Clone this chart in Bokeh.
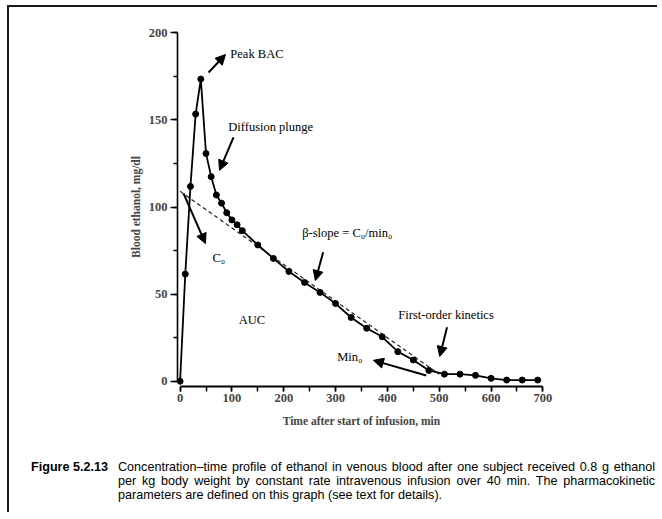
from bokeh.plotting import figure
from bokeh.models import (ColumnDataSource, FixedTicker, Label, Arrow, NormalHead,
                          Range1d, Div)
from bokeh.layouts import column
from bokeh.embed import file_html
from bokeh.resources import INLINE

# ---------------- data ----------------
time_min = [0, 10, 20, 30, 40, 50, 60, 70, 80, 90, 100, 110, 120,
            150, 180, 210, 240, 270, 300, 330, 360, 390, 420, 450,
            480, 510, 540, 570, 600, 630, 660, 690]
bac_mg_dl = [0, 61.5, 111.8, 153.3, 173.4, 130.7, 117.4, 106.9, 102.2, 96.7, 92.6, 89.8, 86.4,
             78.2, 70.5, 63.0, 56.7, 51.0, 44.6, 36.6, 30.4, 25.5, 17.0, 12.2,
             6.2, 4.1, 4.1, 3.4, 1.7, 0.7, 0.7, 0.7]

# extrapolated beta-slope line (C0 intercept to elimination end)
beta_t = [0, 500]
beta_v = [109, 4]

x_ticks = [0, 100, 200, 300, 400, 500, 600, 700]
x_minor = [0, 50, 100, 150, 200, 250, 300, 350, 400, 450, 500, 550, 600, 650, 700]
y_ticks = [0, 50, 100, 150, 200]
y_minor = [0, 25, 50, 75, 100, 125, 150, 175, 200]

# annotation arrows (tail -> head, data coords)
arrow_x0 = [54.8, 103, 6.6, 276, 515, 475]
arrow_y0 = [177.2, 140, 107.8, 74, 31, 3.3]
arrow_x1 = [87.6, 76, 49, 261, 501, 373]
arrow_y1 = [187.5, 121, 79, 57.8, 14.2, 12]

caption_head = "Figure 5.2.13"
caption_lines = [
    "Concentration\u2013time profile of ethanol in venous blood after one subject received 0.8 g ethanol",
    "per kg body weight by constant rate intravenous infusion over 40 min. The pharmacokinetic",
    "parameters are defined on this graph (see text for details).",
]

SERIF = "Liberation Serif"
SANS = "Liberation Sans"

p = figure(width=648, height=430, output_backend="svg", toolbar_location=None,
           x_range=Range1d(-5, 705), y_range=Range1d(-3, 203),
           min_border_left=168, min_border_right=112,
           min_border_top=20, min_border_bottom=51)
p.xgrid.visible = False
p.ygrid.visible = False
p.outline_line_color = None
p.background_fill_color = "white"
p.border_fill_color = "white"

# axes
xa = p.xaxis[0]
xa.ticker = FixedTicker(ticks=x_ticks, minor_ticks=x_minor)
xa.bounds = (0, 700)
xa.axis_line_width = 2
xa.major_tick_out = 5
xa.major_tick_in = 0
xa.minor_tick_out = 5
xa.minor_tick_in = 0
xa.major_tick_line_width = 1.5
xa.minor_tick_line_width = 1.5
xa.major_label_text_font = SERIF
xa.major_label_text_font_style = "bold"
xa.major_label_text_font_size = "12.5px"
xa.major_label_standoff = 2
xa.axis_label = "Time after start of infusion, min"
xa.axis_label_text_font = SERIF
xa.axis_label_text_font_style = "bold"
xa.axis_label_text_font_size = "11.5px"
xa.axis_label_standoff = 10

ya = p.yaxis[0]
ya.ticker = FixedTicker(ticks=y_ticks, minor_ticks=y_minor)
ya.bounds = (0, 200)
ya.axis_line_width = 1.6
ya.major_tick_out = 7
ya.major_tick_in = 0
ya.minor_tick_out = 4
ya.minor_tick_in = 0
ya.major_tick_line_width = 1.5
ya.minor_tick_line_width = 1.5
ya.major_label_text_font = SERIF
ya.major_label_text_font_style = "bold"
ya.major_label_text_font_size = "12.5px"
ya.major_label_standoff = 3
ya.axis_label = "Blood ethanol, mg/dl"
ya.axis_label_text_font = SERIF
ya.axis_label_text_font_style = "bold"
ya.axis_label_text_font_size = "11.5px"
ya.axis_label_standoff = 4

# beta-slope extrapolation
p.line(beta_t, beta_v, line_color="#222222", line_width=1.2, line_dash="4 3")

# data
src = ColumnDataSource(dict(t=time_min, v=bac_mg_dl))
p.line("t", "v", source=src, line_color="black", line_width=1.8)
p.scatter("t", "v", source=src, size=6, fill_color="black", line_color="black")

# arrows
asrc = ColumnDataSource(dict(x0=arrow_x0, y0=arrow_y0, x1=arrow_x1, y1=arrow_y1))
p.add_layout(Arrow(source=asrc, x_start="x0", y_start="y0", x_end="x1", y_end="y1",
                   line_width=2, line_color="black",
                   end=NormalHead(size=10, fill_color="black", line_color="black")))

def lab(x, y, text, align="left", size="12.5px", style="normal"):
    p.add_layout(Label(x=x, y=y, text=text, text_align=align, text_baseline="middle",
                       text_font=SERIF, text_font_size=size, text_font_style=style,
                       text_color="black"))

lab(97, 188, "Peak BAC")
lab(93, 146, "Diffusion plunge")
lab(62.5, 70.5, "C\u2080")
lab(235.6, 84.8, "\u03b2-slope = C\u2080/min\u2080")
lab(138.7, 34.9, "AUC", align="center")
lab(421, 38.3, "First-order kinetics")
lab(303, 14.2, "Min\u2080")

# caption block
line_divs = []
for i, line in enumerate(caption_lines):
    last = "left" if i == len(caption_lines) - 1 else "justify"
    line_divs.append(
        f'<div style="text-align:justify;text-align-last:{last};white-space:nowrap;'
        f'height:14px;">{line}</div>')
cap_html = (
    '<div style="position:relative;width:648px;height:75px;'
    "font-family:'Liberation Sans',Arial,sans-serif;font-size:12.6px;line-height:14px;color:#000;\">"
    f'<div style="position:absolute;left:22px;top:23px;font-weight:bold;white-space:nowrap;">{caption_head}</div>'
    '<div style="position:absolute;left:109px;top:23px;width:537px;">'
    + "".join(line_divs) +
    '</div></div>'
)
cap = Div(text=cap_html, width=648, height=75, margin=(0, 0, 0, 0),
          styles={"overflow": "visible"})

layout = column(p, cap, spacing=0,
                styles={"border-left": "2px solid #1a1a1a", "border-top": "2px solid #1a1a1a",
                        "margin-left": "7px", "margin-top": "5px"})

open("out.html", "w").write(file_html(layout, INLINE))
